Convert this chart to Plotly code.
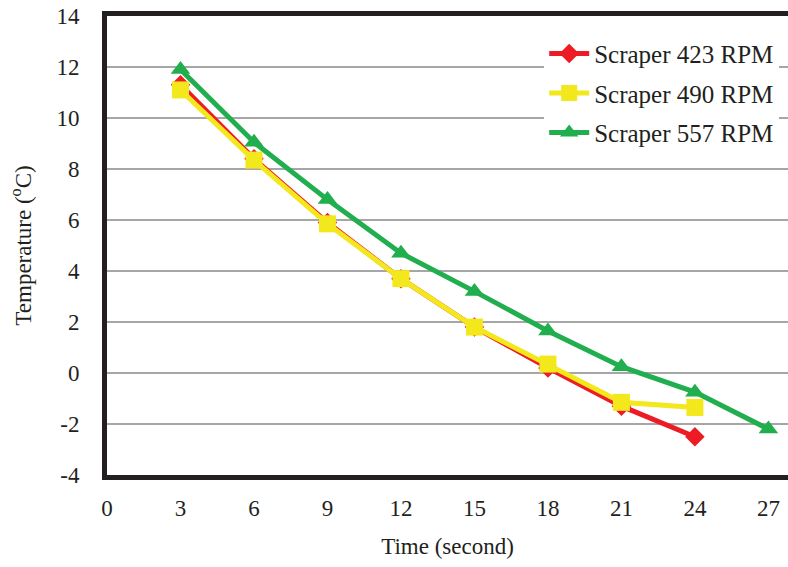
import plotly.graph_objects as go

time_s = [3, 6, 9, 12, 15, 18, 21, 24, 27]
rpm423 = [11.3, 8.4, 5.9, 3.7, 1.8, 0.2, -1.3, -2.5]
rpm490 = [11.1, 8.35, 5.85, 3.7, 1.8, 0.35, -1.15, -1.35]
rpm557 = [11.9, 9.05, 6.8, 4.7, 3.2, 1.65, 0.25, -0.75, -2.2]
names = ["Scraper 423 RPM", "Scraper 490 RPM", "Scraper 557 RPM"]
colors = ["#ED1C24", "#F2E81C", "#21AE4E"]
symbols = ["diamond", "square", "triangle-up"]
sizes = [15, 17, 17]
x_ticks = [0, 3, 6, 9, 12, 15, 18, 21, 24, 27]
y_ticks = [-4, -2, 0, 2, 4, 6, 8, 10, 12, 14]

FONT = "Times New Roman, Liberation Serif, Tinos, serif"
fig = go.Figure()
for ys, nm, c, s, sz in zip([rpm423, rpm490, rpm557], names, colors, symbols, sizes):
    fig.add_trace(go.Scatter(
        x=time_s[:len(ys)], y=ys, name=nm, mode="lines+markers",
        legendgroup=nm,
        line=dict(color=c, width=5),
        marker=dict(color=c, symbol=s, size=sz),
    ))

fig.update_layout(
    width=788, height=567,
    margin=dict(l=107, r=0, t=16, b=92),
    paper_bgcolor="white", plot_bgcolor="white",
    font=dict(family=FONT, size=23, color="#231F20"),
    showlegend=True,
    legend=dict(x=0.642, y=0.968, xanchor="left", yanchor="top",
                bgcolor="white", borderwidth=0,
                font=dict(family=FONT, size=25, color="#231F20"),
                itemwidth=40, tracegroupgap=4),
    xaxis=dict(range=[0, 27.8], tickvals=x_ticks,
               ticktext=[str(v) for v in x_ticks],
               showgrid=False, zeroline=False,
               showline=True, linecolor="#231F20", linewidth=5, mirror=True,
               ticks="", ticklabelstandoff=8,
               title=dict(text="Time (second)", standoff=20,
                          font=dict(family=FONT, size=23, color="#231F20"))),
    yaxis=dict(range=[-4, 14], tickvals=y_ticks,
               ticktext=[str(v) for v in y_ticks],
               showgrid=True, gridcolor="#A6A6A6", gridwidth=1.5,
               zeroline=False,
               showline=True, linecolor="#231F20", linewidth=5, mirror=False,
               ticks="", ticklabelstandoff=18,
               title=dict(text="Temperature (<sup>o</sup>C)", standoff=20,
                          font=dict(family=FONT, size=23, color="#231F20"))),
)

fig.write_html("out.html")
